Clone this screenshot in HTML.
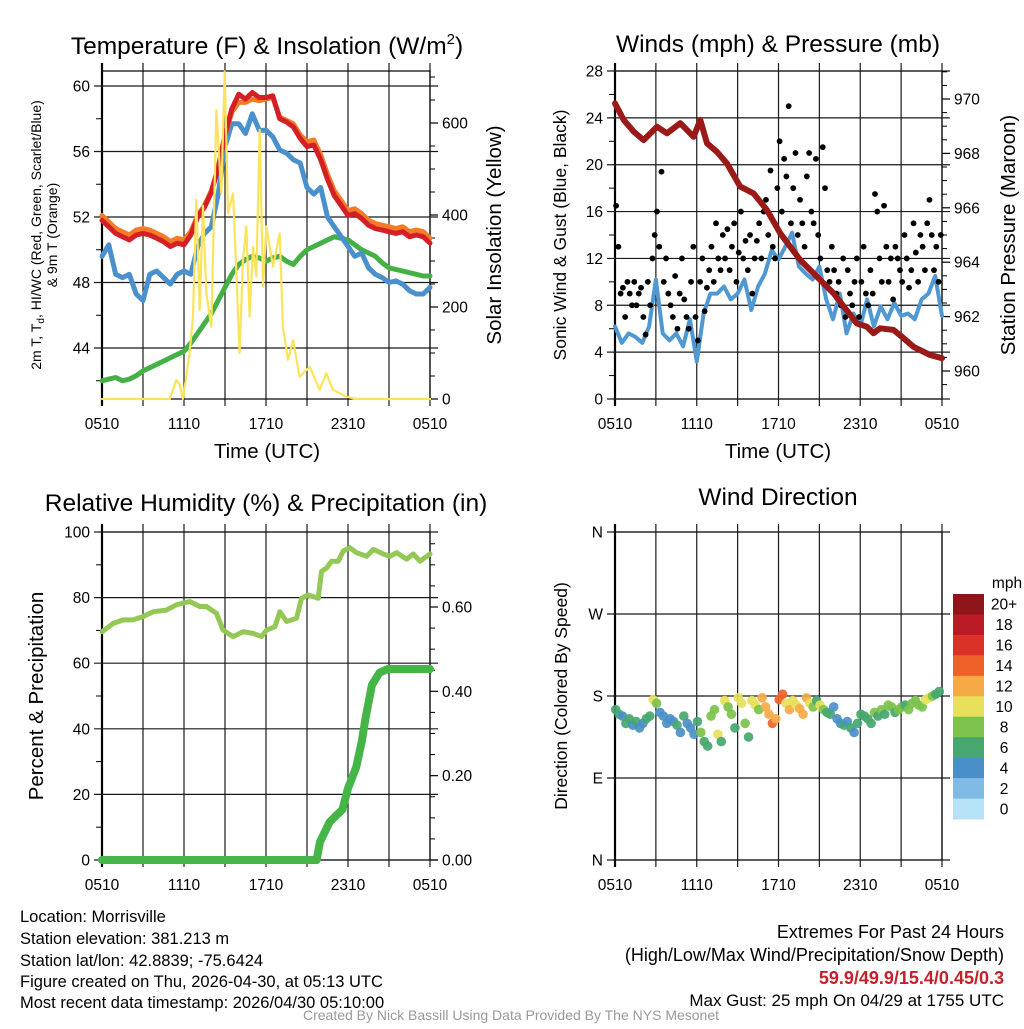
<!DOCTYPE html>
<html><head><meta charset="utf-8"><style>
html,body{margin:0;padding:0;background:#fff;}
svg text{font-family:"Liberation Sans",sans-serif;}
</style></head><body>
<svg id="s" width="1024" height="1024" viewBox="0 0 1024 1024" xmlns="http://www.w3.org/2000/svg">
<g font-size="24.5" text-anchor="middle" fill="#000">
<text x="267" y="54">Temperature (F) &amp; Insolation (W/m<tspan font-size="15" dy="-10">2</tspan><tspan dy="10">)</tspan></text>
<text x="778" y="52">Winds (mph) &amp; Pressure (mb)</text>
<text x="266" y="511">Relative Humidity (%) &amp; Precipitation (in)</text>
<text x="778" y="505">Wind Direction</text>
</g>
<g font-size="20.5" text-anchor="middle">
<text x="267" y="458">Time (UTC)</text>
<text x="778" y="458">Time (UTC)</text>
<text transform="translate(501,235) rotate(-90)">Solar Insolation (Yellow)</text>
<text transform="translate(1015,235) rotate(-90)">Station Pressure (Maroon)</text>
<text transform="translate(43,696) rotate(-90)">Percent &amp; Precipitation</text>
</g>
<g font-size="17.5" text-anchor="middle">
<text transform="translate(566,235) rotate(-90)">Sonic Wind &amp; Gust (Blue, Black)</text>
<text transform="translate(567,696) rotate(-90)">Direction (Colored By Speed)</text>
</g>
<g font-size="14" text-anchor="middle">
<text transform="translate(41,235) rotate(-90)">2m T, T<tspan font-size="10" dy="3">d</tspan><tspan dy="-3">, HI/WC (Red, Green, Scarlet/Blue)</tspan></text>
<text transform="translate(57,235) rotate(-90)">&amp; 9m T (Orange)</text>
</g>
<g font-size="16.5">
<text x="20" y="922">Location: Morrisville</text>
<text x="20" y="944">Station elevation: 381.213 m</text>
<text x="20" y="966">Station lat/lon: 42.8839; -75.6424</text>
<text x="20" y="987">Figure created on Thu, 2026-04-30, at 05:13 UTC</text>
<text x="20" y="1008">Most recent data timestamp: 2026/04/30 05:10:00</text>
</g>
<g font-size="18" text-anchor="end">
<text x="1004" y="938">Extremes For Past 24 Hours</text>
<text x="1004" y="961">(High/Low/Max Wind/Precipitation/Snow Depth)</text>
<text x="1004" y="984" fill="#c8202a" font-weight="bold">59.9/49.9/15.4/0.45/0.3</text>
<text x="1004" y="1006" font-size="17">Max Gust: 25 mph On 04/29 at 1755 UTC</text>
</g>
<text x="511" y="1020" font-size="14" fill="#999" text-anchor="middle">Created By Nick Bassill Using Data Provided By The NYS Mesonet</text>
</svg>
<script>
// ---------- data ----------
const halfHours = [0,0.5,1,1.5,2,2.5,3,3.5,4,4.5,5,5.5,6,6.5,7,7.5,8,8.5,9,9.5,10,10.5,11,11.5,12,12.5,13,13.5,14,14.5,15,15.5,16,16.5,17,17.5,18,18.5,19,19.5,20,20.5,21,21.5,22,22.5,23,23.5,24];
const tempRed = [51.8,51.4,51.0,50.8,50.6,50.9,51.0,50.9,50.7,50.5,50.2,50.4,50.3,50.9,52.0,52.6,53.5,55.0,57.0,58.6,59.5,59.2,59.6,59.3,59.3,59.4,58.0,57.8,57.5,56.8,56.3,56.4,55.5,54.3,53.3,52.7,52.1,52.2,51.9,51.5,51.3,51.2,51.1,51.0,51.1,50.8,50.9,50.8,50.4];
const tempOrange = [52.1,51.7,51.3,51.1,50.9,51.2,51.3,51.2,51.0,50.8,50.5,50.7,50.6,51.1,52.1,52.7,53.6,55.0,57.0,58.4,59.0,59.0,59.2,59.1,59.2,59.3,58.1,57.9,57.7,57.0,56.6,56.7,55.8,54.6,53.6,53.0,52.4,52.5,52.2,51.8,51.6,51.5,51.4,51.3,51.4,51.1,51.2,51.1,50.7];
const heatIndex = [49.6,50.3,48.5,48.3,48.5,47.3,46.9,48.5,48.7,48.3,47.9,48.5,48.7,48.5,50.2,51.0,51.4,53.4,56.3,57.7,57.7,57.1,58.3,57.3,57.3,56.9,56.1,55.9,55.5,55.3,53.8,53.4,53.8,52.0,51.4,50.8,50.2,49.6,49.8,48.9,48.5,48.3,48.0,48.1,47.9,47.5,47.3,47.3,47.7];
const dewPoint = [42.0,42.1,42.2,42.0,42.1,42.3,42.6,42.8,43.0,43.2,43.4,43.6,43.8,44.3,44.9,45.5,46.1,46.9,47.7,48.5,49.1,49.4,49.6,49.5,49.3,49.5,49.6,49.3,49.1,49.6,50.0,50.2,50.4,50.6,50.8,50.7,50.6,50.3,50.0,49.8,49.6,49.2,48.9,48.8,48.7,48.6,48.5,48.4,48.4];
const insolHours = [0,4.95,5.44,5.68,5.93,6.41,6.66,6.9,7.15,7.39,7.63,8.0,8.37,8.73,8.98,9.22,9.59,10.07,10.32,10.56,10.8,11.05,11.29,11.54,11.78,12.02,12.51,13.0,13.24,13.61,13.98,14.46,15.2,15.93,16.41,16.9,17.88,18.6,24];
const insolVals = [0,0,41,32,0,100,180,433,193,420,230,157,628,447,712,404,447,100,302,375,179,331,266,585,244,375,288,360,157,85,128,48,70,20,56,20,5,0,0];
const windSpeed = [6.2,4.8,5.6,5.3,4.8,6.2,10.2,5.6,5.0,5.6,4.5,6.8,3.2,7.3,9.0,9.0,9.6,8.5,9.0,10.2,7.6,9.6,10.7,12.7,11.9,13.0,14.2,11.3,10.7,10.2,11.3,8.5,6.8,9.0,5.6,7.3,6.2,8.5,6.2,7.9,6.8,8.2,7.1,7.3,6.8,8.5,9.0,10.5,7.1];
const gustVals = [16.5,13,9,9.5,7,10, 9,8,10,8,9,9.5, 7,5.5,10,8,12,14, 16,13,19.4,10,12,9, 8,7,10.5,6,9,12, 8.5,7,6,10,13,7, 5,10,12,7.5,9.5,11, 13,10,15,12,11,14, 12,14.5,11,13,15,10, 12.5,16,12,13.5,11,14, 9,12,13.5,15,12,16, 17,14,19.5,13,12,18, 22,16,20.5,19,25,15, 18,21,14,17,15,13, 19,21,16,15,20.5,14, 12,21.5,18,11,10,13, 11,9,10,8,12,7, 11,9,8,10,12,7, 10,13,9,8,11,9, 17.5,16,12,10,16.5,13, 10,12,8.5,13,12,11, 10,14,12,9.5,11,15, 12.5,10,14,13,11,15, 17,14,11,13,10,14];
const presHours = [0,0.64,1.37,2.1,3.08,3.81,4.79,5.77,6.26,6.75,7.48,8.22,9.19,10.17,11.15,12.13,13.59,16.04,17.75,18.48,18.97,19.46,20.44,21.05,21.91,23.13,24];
const presVals = [969.84,969.23,968.80,968.49,968.98,968.74,969.11,968.61,969.23,968.37,968.06,967.63,966.78,966.53,965.92,965.06,964.08,962.86,961.75,961.63,961.39,961.57,961.51,961.26,960.89,960.59,960.47];
const rhHours = [0,0.81,1.54,2.27,3.0,3.74,4.71,5.44,6.42,7.15,7.64,8.37,8.86,9.59,10.33,11.06,11.67,12.04,12.65,13.01,13.5,14.23,14.6,15.09,15.82,16.06,16.43,16.8,17.29,17.65,18.14,18.63,19.36,19.85,20.58,21.07,21.56,22.29,22.78,23.27,24];
const rhVals = [69.6,72.1,73.2,73.2,74.2,75.7,76.2,77.8,78.8,77.3,77.3,75.2,70.1,68.1,69.6,69.1,68.1,70.1,71.1,75.7,72.7,73.7,79.8,80.8,79.8,88,89,91.1,91.1,94.2,95.2,93.7,92.6,94.7,93.3,92.6,93.7,91.7,93.3,91.1,93.3];
const precipHours = [0,15.7,15.95,16.66,17.6,18.0,18.6,19.0,19.3,19.6,19.75,20.3,20.9,24];
const precipVals = [0,0,0.043,0.09,0.12,0.17,0.22,0.28,0.34,0.39,0.415,0.444,0.453,0.453];
const dirVals = [165,160,158,150,155,148,152,145,150,155,158,176,172,162,158,150,155,152,148,140,158,150,145,138,152,140,130,125,158,165,138,130,175,168,160,145,178,172,150,135,175,170,165,178,168,160,150,155,176,182,172,165,175,170,166,160,178,172,168,175,170,165,162,160,168,155,150,148,152,145,140,150,160,158,155,150,162,158,165,160,170,168,162,165,168,170,165,172,175,170,168,176,178,180,182,185];
const dirSpeeds = [6,6,5,7,7,5,6,5,5,6,6,10,9,5,4,5,4,5,6,4,7,5,5,4,7,8,7,7,9,8,10,7,10,9,8,7,11,10,8,7,10,11,9,12,13,12,14,13,15,14,11,13,11,10,12,12,12,10,9,7,10,8,7,6,5,4,5,6,5,7,4,6,6,7,7,6,8,7,8,7,8,8,7,9,8,7,8,9,9,8,8,10,10,9,7,6];
const timeLabels = ["0510","1110","1710","2310","0510"];
const tempTicks = [44,48,52,56,60];
const insolTicks = [0,200,400,600];
const windTicks = [0,4,8,12,16,20,24,28];
const presTicks = [960,962,964,966,968,970];
const rhTicks = [0,20,40,60,80,100];
const precipTicks = [0,0.2,0.4,0.6];
const dirTicks = ["N","E","S","W","N"];
const cbLabels = ["0","2","4","6","8","10","12","14","16","18","20+"];
const cbColors = ["#b5e2f7","#80bbe5","#4a8fc7","#47a76f","#7cc24b","#e6e05a","#f6aa45","#ee6229","#dc3128","#bb1a25","#8e1519"];

// ---------- helpers ----------
const NS="http://www.w3.org/2000/svg";
const S=document.getElementById('s');
function mk(tag,attrs,parent){const e=document.createElementNS(NS,tag);for(const k in attrs)e.setAttribute(k,attrs[k]);(parent||S).appendChild(e);return e;}
function scale(d0,d1,r0,r1){return v=>r0+(v-d0)*(r1-r0)/(d1-d0);}
function panel(x0,x1,y0,y1){return {x0,x1,y0,y1,x:scale(0,24,x0,x1)};}
function frame(p,name){
  const g=mk('g',{});
  
  
  for(let h=0;h<=24;h+=3){const X=p.x(h);mk('line',{x1:X,x2:X,y1:p.y0-8,y2:p.y1+7,stroke:'#1a1a1a','stroke-width':1.2},g);}
  mk('rect',{x:p.x0,y:p.y0,width:p.x1-p.x0,height:p.y1-p.y0,fill:'none',stroke:'#000','stroke-width':1.2},g);
  mk('line',{x1:p.x0,x2:p.x0,y1:p.y0-8,y2:p.y1+7,stroke:'#000','stroke-width':2.2},g);
  timeLabels.forEach((t,i)=>{const tx=mk('text',{x:p.x(i*6),y:p.y1+30,'font-size':15.5,'text-anchor':'middle'},g);tx.textContent=t;});
  return g;
}
function hgrid(p,ys,labels,name,minor){
  const g=mk('g',{});
  
  
  ys.forEach((Y,i)=>{mk('line',{x1:p.x0-8,x2:p.x1+8,y1:Y,y2:Y,stroke:'#1a1a1a','stroke-width':1.2},g);
    const t=mk('text',{x:p.x0-12,y:Y+5.5,'font-size':15.5,'text-anchor':'end'},g);t.textContent=labels[i];});
  (minor||[]).forEach(Y=>mk('line',{x1:p.x0-6,x2:p.x0,y1:Y,y2:Y,stroke:'#000'},g));
}
function rightAxis(p,ys,labels,minor,name){
  const g=mk('g',{});
  
  
  ys.forEach((Y,i)=>{mk('line',{x1:p.x1,x2:p.x1+8,y1:Y,y2:Y,stroke:'#000','stroke-width':1.2},g);
    const t=mk('text',{x:p.x1+12,y:Y+5.5,'font-size':15.5},g);t.textContent=labels[i];});
  minor.forEach(Y=>mk('line',{x1:p.x1,x2:p.x1+5,y1:Y,y2:Y,stroke:'#000'},g));
}
function path(xs,ys,fx,fy,attrs,name){
  const d=xs.map((v,i)=>(i?'L':'M')+fx(v).toFixed(1)+','+fy(ys[i]).toFixed(1)).join('');
  const e=mk('path',Object.assign({d,fill:'none','stroke-linejoin':'round','stroke-linecap':'round'},attrs));
  
  
  return e;
}

// ---------- panel 1: temperature ----------
const p1=panel(102,430,71,399);
const yT=scale(44,60,348,86), yI=scale(0,600,399,123);
frame(p1,'temp-panel');
hgrid(p1,tempTicks.map(yT),tempTicks,'temp-y-axis',[42,46,50,54,58].map(yT));
const minI=[];for(let v=50;v<=700;v+=50)if(v%200)minI.push(yI(v));
rightAxis(p1,insolTicks.map(yI),insolTicks,minI,'insolation-axis');
path(halfHours,dewPoint,p1.x,yT,{stroke:'#45b045','stroke-width':5},'dewpoint-line');
path(halfHours,heatIndex,p1.x,yT,{stroke:'#4a90cd','stroke-width':5},'heat-index-line');
path(halfHours,tempOrange,p1.x,yT,{stroke:'#f47b27','stroke-width':5},'temp-9m-line');
path(halfHours,tempRed,p1.x,yT,{stroke:'#d41f26','stroke-width':5},'temp-2m-line');
path(insolHours,insolVals,p1.x,yI,{stroke:'#fde35b','stroke-width':2.2},'insolation-line');

// ---------- panel 2: winds ----------
const p2=panel(615,942,71,399);
const yW=scale(0,28,399,71), yP=scale(960,970,371,99);
frame(p2,'wind-panel');
hgrid(p2,windTicks.map(yW),windTicks,'wind-y-axis',[2,6,10,14,18,22,26].map(yW));
const minP=[];for(let v=959.5;v<=971;v+=0.5)if(v%2)minP.push(yP(v));
rightAxis(p2,presTicks.map(yP),presTicks,minP,'pressure-axis');
path(halfHours,windSpeed,p2.x,yW,{stroke:'#4f98d2','stroke-width':4},'wind-speed-line');
gustVals.forEach((v,i)=>{
  const c=mk('circle',{cx:p2.x(i*24/144+0.08),cy:yW(v),r:2.9,fill:'#000'});
  
  
});
path(presHours,presVals,p2.x,yP,{stroke:'#9a1a1a','stroke-width':6},'pressure-line');

// ---------- panel 3: RH ----------
const p3=panel(102,430,532,860);
const yR=scale(0,100,860,532), yPr=scale(0,0.6,860,607);
frame(p3,'rh-panel');
hgrid(p3,rhTicks.map(yR),rhTicks,'rh-y-axis',[10,30,50,70,90].map(yR));
const minPr=[];for(let v=0.05;v<0.78;v+=0.05)if(Math.round(v*100)%20)minPr.push(yPr(v));
rightAxis(p3,precipTicks.map(yPr),precipTicks.map(v=>v.toFixed(2)),minPr,'precip-axis');
path(rhHours,rhVals,p3.x,yR,{stroke:'#92c853','stroke-width':5},'rh-line');
path(precipHours,precipVals,p3.x,yPr,{stroke:'#46b548','stroke-width':8},'precip-line');

// ---------- panel 4: direction ----------
const p4=panel(615,942,532,860);
const yD=scale(0,360,860,532);
frame(p4,'direction-panel');
hgrid(p4,[0,90,180,270,360].map(yD),dirTicks,'direction-y-axis',[]);
dirVals.forEach((d,i)=>{
  const s=dirSpeeds[i];
  const c=mk('circle',{cx:p4.x(i*0.25+0.05),cy:yD(d),r:4.8,fill:cbColors[Math.min(10,Math.floor(s/2))],opacity:0.92});
  
  
});
// colorbar
const cb=mk('g',{});


const cbTop=594,cbH=225/11;
cbColors.forEach((col,i)=>{
  const k=10-i;
  mk('rect',{x:953,y:cbTop+i*cbH,width:31,height:cbH+0.5,fill:cbColors[k]},cb);
  const t=mk('text',{x:1004,y:cbTop+i*cbH+cbH/2+5.5,'font-size':15.5,'text-anchor':'middle'},cb);t.textContent=cbLabels[k];
});
const mph=mk('text',{x:1007,y:588,'font-size':15.5,'text-anchor':'middle'},cb);mph.textContent='mph';
</script>
</body></html>
